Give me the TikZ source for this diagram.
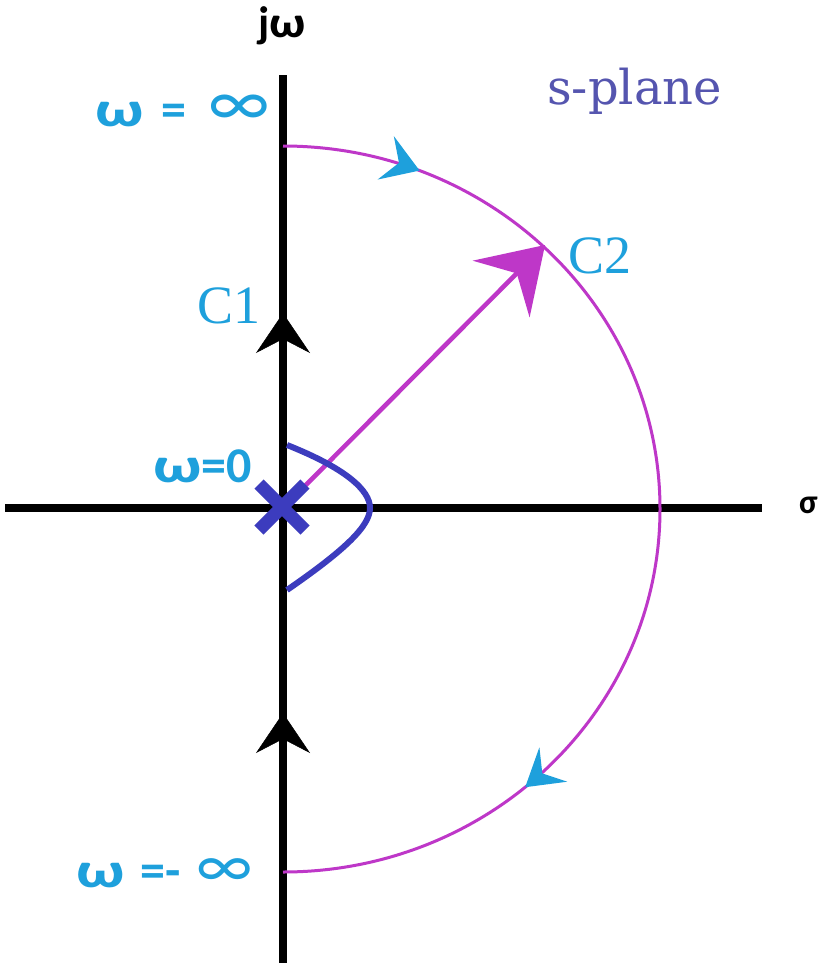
\documentclass[tikz,border=0pt]{standalone}
\usepackage{fontspec}
\setmainfont{Carlito}
\newfontfamily\slabfont{DejaVu Serif}
\newfontfamily\cfont{Liberation Serif}
\usetikzlibrary{arrows.meta,decorations.markings}
\definecolor{cyanlbl}{RGB}{30,160,220}
\definecolor{magline}{RGB}{190,55,200}
\definecolor{bluec}{RGB}{60,60,190}
\definecolor{splane}{RGB}{85,85,175}
\tikzset{
  axis/.style={line width=8pt,black},
  lbl/.style={inner sep=0pt,text=cyanlbl,font=\bfseries\fontsize{50}{50}\selectfont},
  clbl/.style={inner sep=0pt,text=cyanlbl,font=\cfont\fontsize{54}{54}\selectfont},
  blackhead/.style={line width=8pt,black,-{Stealth[inset=14pt,length=40pt,width=54pt,line width=0.5pt]}},
}
\newcommand{\biginf}{{\mdseries\fontsize{72}{72}\selectfont ∞}}
\newcommand{\wideom}{\scalebox{1.35}[1]{ω}}
\begin{document}
\begin{tikzpicture}[x=1pt,y=1pt]
\useasboundingbox (0,0) rectangle (832,-963);
\fill[white] (0,0) rectangle (832,-963);
\coordinate (O) at (283,-508);
\coordinate (top) at (283,-75);
\coordinate (bot) at (283,-963);
\coordinate (left) at (5,-508);
\coordinate (right) at (762,-508);
% axes
\draw[axis] (bot) -- (top);
\draw[axis] (left) -- (right);
% big contour
\draw[magline,line width=3pt,
  postaction={decorate,decoration={markings,
    mark=at position 0.12 with {\arrow{Stealth[inset=14pt,length=36pt,width=46pt,cyanlbl]}},
    mark=at position 0.775 with {\arrow{Stealth[inset=14pt,length=36pt,width=44pt,cyanlbl]}}}}]
  (283,-146) arc[start angle=90,end angle=-90,x radius=377,y radius=363];
% black arrowheads on jw axis
\coordinate (a1s) at (283,-380);
\coordinate (a1e) at (283,-313);
\coordinate (a2s) at (283,-780);
\coordinate (a2e) at (283,-713);
\draw[blackhead] (a1s) -- (a1e);
\draw[blackhead] (a2s) -- (a2e);
% radial arrow
\coordinate (C2pt) at (545,-245);
\draw[magline,line width=4.5pt,-{Stealth[inset=22pt,length=62pt,width=80pt,magline]}] (O) -- (C2pt);
% small contour
\draw[bluec,line width=6pt] (287,-445) .. controls (345,-468) and (370,-490) .. (370,-508)
  .. controls (370,-526) and (345,-550) .. (287,-590);
% pole X
\draw[bluec,line width=13pt] (259,-484) -- (305,-530);
\draw[bluec,line width=13pt] (259,-530) -- (305,-484);
% labels
\node[inner sep=0pt,anchor=base west,font=\bfseries\fontsize{44}{44}\selectfont] (jw) at (258,-38) {j\scalebox{1.15}[1]{ω}};
\node[inner sep=0pt,anchor=base west,font=\bfseries\fontsize{34}{34}\selectfont] (sig) at (799,-513) {σ};
\node[lbl,anchor=base west] (winf) at (95,-126) {\wideom\hspace{18pt}=\hspace{22pt}\biginf};
\node[lbl,anchor=base east] (w0) at (252,-482) {\wideom=0};
\node[lbl,anchor=base west] (wminf) at (76,-887) {\wideom\hspace{16pt}=-\hspace{16pt}{\mdseries\fontsize{66}{66}\selectfont ∞}};
\node[clbl,anchor=base west] (C1) at (197,-323) {C1};
\node[clbl,anchor=base west] (C2) at (568,-273) {C2};
\node[inner sep=0pt,anchor=base west,text=splane,font=\slabfont\fontsize{48}{48}\selectfont] (sp) at (547,-105) {s-plane};
\end{tikzpicture}
\end{document}
